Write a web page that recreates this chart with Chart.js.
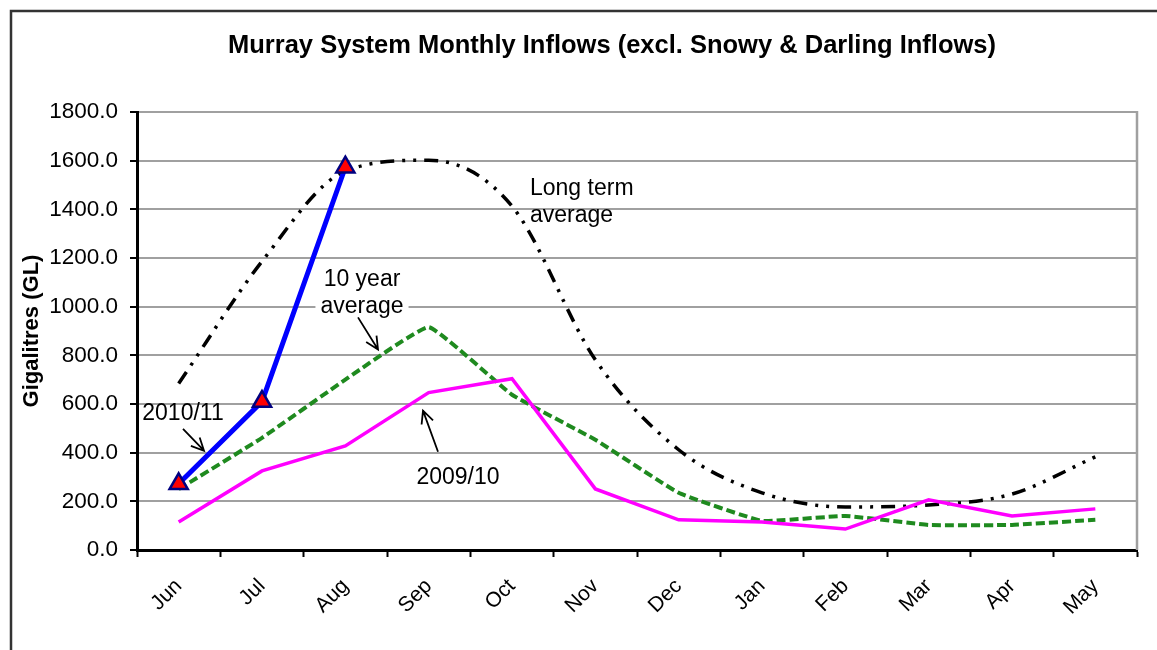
<!DOCTYPE html>
<html>
<head>
<meta charset="utf-8">
<script src="https://cdn.jsdelivr.net/npm/chart.js@4"></script>
<style>
  html, body { margin: 0; padding: 0; background: #fff; }
  #wrap { width: 1157px; height: 650px; position: relative; }
</style>
</head>
<body>
<div id="wrap"><canvas id="inflowChart"></canvas></div>
<script>
// Data
const months = ['Jun', 'Jul', 'Aug', 'Sep', 'Oct', 'Nov', 'Dec', 'Jan', 'Feb', 'Mar', 'Apr', 'May'];
const inflows2010 = [272, 610, 1573];
const longTermAvg = [684, 1186, 1557, 1602, 1413, 782, 412, 235, 177, 185, 230, 383];
const tenYearAvg = [250, 461, 700, 916, 638, 453, 235, 120, 140, 103, 103, 124];
const inflows2009 = [115, 325, 428, 647, 704, 251, 124, 115, 86, 206, 140, 169];
const yTicks = [0, 200, 400, 600, 800, 1000, 1200, 1400, 1600, 1800];

const chartTitle = 'Murray System Monthly Inflows (excl. Snowy & Darling Inflows)';

// Callout labels, placed in data units (category index, GL)
const callouts = [
    { lines: ['Long term', 'average'], x: 4.216, y: 1483, align: 'left', bg: false },
    { lines: ['10 year', 'average'], x: 2.2, y: 1112, align: 'center', bg: true },
    { lines: ['2010/11'], x: 0.052, y: 560, align: 'center', bg: false },
    { lines: ['2009/10'], x: 3.352, y: 297, align: 'center', bg: false }
];
const arrows = [
    { from: [2.152, 956], to: [2.392, 824] },
    { from: [0.052, 498], to: [0.304, 408] },
    { from: [3.112, 404], to: [2.932, 573] }
];

const FONT = '"Liberation Sans", Arial, sans-serif';

// Frame, title, plot border and callouts
const decorPlugin = {
    id: 'decor',
    beforeDraw(chart) {
        const c = chart.ctx;
        c.save();
        c.fillStyle = '#fff';
        c.fillRect(0, 0, chart.width, chart.height);
        c.strokeStyle = '#333';
        c.lineWidth = 2.5;
        c.beginPath();
        c.moveTo(11, chart.height + 5);
        c.lineTo(11, 11);
        c.lineTo(chart.width + 5, 11);
        c.stroke();
        c.restore();
    },
    beforeDatasetsDraw(chart) {
        const c = chart.ctx;
        const a = chart.chartArea;
        c.save();
        c.strokeStyle = '#a0a0a0';
        c.lineWidth = 2.5;
        c.beginPath();
        c.moveTo(a.right, a.top - 1);
        c.lineTo(a.right, a.bottom);
        c.stroke();
        c.restore();
    },
    afterDatasetsDraw(chart) {
        const c = chart.ctx;
        const xs = chart.scales.x, ys = chart.scales.y;
        const px = v => xs.getPixelForValue(v);
        const py = v => ys.getPixelForValue(v);
        c.save();

        // title
        c.fillStyle = '#000';
        c.font = 'bold 25.5px ' + FONT;
        c.textAlign = 'center';
        c.textBaseline = 'middle';
        c.fillText(chartTitle, 612, 46, 770);

        // callout text
        c.font = '23px ' + FONT;
        callouts.forEach(t => {
            const x = px(t.x), y = py(t.y);
            const lh = 27;
            if (t.bg) {
                const w = Math.max(...t.lines.map(l => c.measureText(l).width)) + 10;
                c.fillStyle = '#fff';
                c.fillRect(x - w / 2, y - lh / 2, w, lh * t.lines.length);
            }
            c.fillStyle = '#000';
            c.textAlign = t.align;
            t.lines.forEach((l, i) => c.fillText(l, x, y + i * lh));
        });

        // arrows
        c.strokeStyle = '#000';
        c.lineWidth = 1.8;
        arrows.forEach(ar => {
            const x1 = px(ar.from[0]), y1 = py(ar.from[1]);
            const x2 = px(ar.to[0]), y2 = py(ar.to[1]);
            const ang = Math.atan2(y2 - y1, x2 - x1);
            const head = 14;
            c.beginPath();
            c.moveTo(x1, y1);
            c.lineTo(x2, y2);
            c.moveTo(x2 - head * Math.cos(ang - 0.45), y2 - head * Math.sin(ang - 0.45));
            c.lineTo(x2, y2);
            c.lineTo(x2 - head * Math.cos(ang + 0.45), y2 - head * Math.sin(ang + 0.45));
            c.stroke();
        });
        c.restore();
    }
};

const ctx = document.getElementById('inflowChart').getContext('2d');

const inflowChart = new Chart(ctx, {
    type: 'line',
    data: {
        labels: months,
        datasets: [
            {
                label: '2010/11',
                data: inflows2010,
                borderColor: '#0000ff',
                borderWidth: 5,
                tension: 0,
                pointStyle: 'triangle',
                pointRadius: 10.5,
                pointBackgroundColor: '#ff0000',
                pointBorderColor: '#000080',
                pointBorderWidth: 2.5
            },
            {
                label: '2009/10',
                data: inflows2009,
                borderColor: '#ff00ff',
                borderWidth: 3.5,
                tension: 0,
                pointRadius: 0
            },
            {
                label: '10 year average',
                data: tenYearAvg,
                borderColor: '#1f8a1f',
                borderWidth: 4,
                borderDash: [9, 4],
                tension: 0.1,
                pointRadius: 0
            },
            {
                label: 'Long term average',
                data: longTermAvg,
                borderColor: '#000',
                borderWidth: 3.5,
                borderDash: [14, 8, 3, 8, 3, 8],
                cubicInterpolationMode: 'monotone',
                pointRadius: 0
            }
        ]
    },
    options: {
        responsive: true,
        maintainAspectRatio: false,
        animation: false,
        layout: {
            padding: { left: 0, right: 20, top: 112, bottom: 0 }
        },
        plugins: {
            legend: { display: false },
            title: { display: false },
            tooltip: { enabled: false }
        },
        scales: {
            x: {
                offset: true,
                afterFit: s => { s.height = 100; },
                grid: {
                    offset: true,
                    drawOnChartArea: false,
                    tickColor: '#000',
                    tickWidth: 2,
                    tickLength: 7
                },
                border: { color: '#000', width: 3 },
                ticks: {
                    autoSkip: false,
                    minRotation: 45,
                    maxRotation: 45,
                    padding: 17,
                    color: '#000',
                    font: { family: FONT, size: 21 }
                }
            },
            y: {
                min: 0,
                max: 1800,
                afterFit: s => { s.width = 137; },
                afterBuildTicks: s => { s.ticks = yTicks.map(v => ({ value: v })); },
                grid: {
                    color: '#a0a0a0',
                    lineWidth: 2,
                    tickColor: '#000',
                    tickWidth: 2,
                    tickLength: 7
                },
                border: { color: '#000', width: 3 },
                ticks: {
                    padding: 12,
                    color: '#000',
                    font: { family: FONT, size: 22.5 },
                    callback: v => Number(v).toFixed(1)
                },
                title: {
                    display: true,
                    text: 'Gigalitres (GL)',
                    color: '#000',
                    padding: { top: 19, bottom: 0 },
                    font: { family: FONT, size: 22, weight: 'bold' }
                }
            }
        }
    },
    plugins: [decorPlugin]
});
</script>
</body>
</html>
